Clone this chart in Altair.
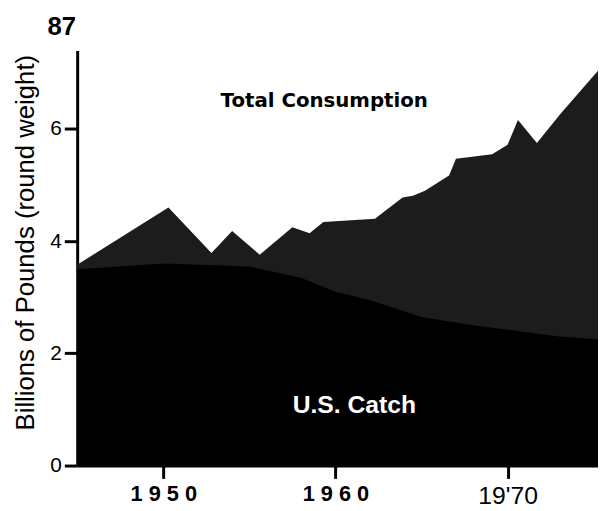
import altair as alt
import pandas as pd

# Total consumption outline (year, billions of pounds, round weight)
total_years = [1945, 1950.3, 1952.8, 1954.0, 1955.6, 1957.5, 1958.5, 1959.3,
               1962.3, 1962.5, 1963.9, 1964.5, 1965.2, 1966.6, 1967.0, 1969.1,
               1970.0, 1970.6, 1971.7, 1973.1, 1975.25]
total_values = [3.58, 4.60, 3.79, 4.18, 3.76, 4.25, 4.14, 4.34,
                4.40, 4.45, 4.78, 4.81, 4.90, 5.17, 5.47, 5.55,
                5.72, 6.16, 5.75, 6.28, 7.04]

# U.S. catch
catch_years = [1945, 1950, 1955, 1958, 1960, 1962, 1965, 1968, 1970, 1973, 1975.25]
catch_values = [3.50, 3.60, 3.55, 3.35, 3.10, 2.95, 2.65, 2.50, 2.42, 2.30, 2.25]

y_ticks = [0, 2, 4, 6]
x_ticks = [1950, 1960, 1970]
x_tick_labels = ["1 9 5 0", "1 9 6 0", "19'70"]

label_texts = ["Total  Consumption", "U.S. Catch"]
label_years = [1959.35, 1961.1]
label_values = [6.40, 0.93]

total_df = pd.DataFrame({"year": total_years, "value": total_values})
catch_df = pd.DataFrame({"year": catch_years, "value": catch_values})
ann_df = pd.DataFrame({"text": label_texts, "year": label_years, "value": label_values})

expr = '""'
for v, lab in zip(reversed(x_ticks), reversed(x_tick_labels)):
    expr = f'datum.value == {v} ? "{lab}" : ({expr})'

x_scale = alt.Scale(domain=[1945, 1975.25], nice=False, zero=False)
y_scale = alt.Scale(domain=[0, 7.4], nice=False)

x_axis = alt.Axis(
    values=x_ticks, labelExpr=expr, title=None, grid=False,
    domainColor="black", domainWidth=3, tickColor="black", tickWidth=3,
    tickSize=13, labelPadding=5, labelColor="black", labelBaseline="top",
    labelFont="Liberation Sans",
    labelFontWeight={"condition": {"test": "datum.value == 1970", "value": "normal"},
                     "value": "bold"},
    labelFontSize={"condition": {"test": "datum.value == 1970", "value": 25},
                   "value": 22},
)
y_axis = alt.Axis(
    values=y_ticks, format="d", title="Billions of Pounds (round weight)", grid=False,
    domainColor="black", domainWidth=3, tickColor="black", tickWidth=3,
    tickSize=13, labelPadding=3, labelColor="black",
    labelFont="Liberation Sans", labelFontSize=21,
    titleFont="Liberation Sans", titleFontSize=26, titleFontWeight="normal",
    titleColor="black", titleX=-44, titleY=194, titleBaseline="alphabetic",
)

total = alt.Chart(total_df).mark_area(color="#1c1c1c", opacity=1).encode(
    x=alt.X("year:Q", scale=x_scale, axis=x_axis),
    y=alt.Y("value:Q", scale=y_scale, axis=y_axis),
)
catch = alt.Chart(catch_df).mark_area(color="#000000", opacity=1).encode(
    x=alt.X("year:Q", scale=x_scale),
    y=alt.Y("value:Q", scale=y_scale),
)
ann_total = alt.Chart(ann_df.iloc[[0]]).mark_text(
    font="DejaVu Sans", fontSize=20, fontWeight="bold", color="black",
    align="center", baseline="alphabetic",
).encode(x="year:Q", y="value:Q", text="text:N")
ann_catch = alt.Chart(ann_df.iloc[[1]]).mark_text(
    font="Liberation Sans", fontSize=25, fontWeight="bold", color="white",
    align="center", baseline="alphabetic",
).encode(x="year:Q", y="value:Q", text="text:N")

chart = alt.layer(total, catch, ann_total, ann_catch).properties(
    width=527, height=420,
    autosize=alt.AutoSizeParams(type="none"),
    padding={"left": 70, "top": 40, "right": 0, "bottom": 40},
    title=alt.TitleParams("87", anchor="start", frame="group", dx=-30, dy=25, offset=10,
                          baseline="bottom", font="Liberation Sans",
                          fontSize=26, fontWeight="bold", color="black"),
    background="white",
).configure_view(stroke=None)

chart.save("out.html", embed_options={"renderer": "svg", "actions": False})
